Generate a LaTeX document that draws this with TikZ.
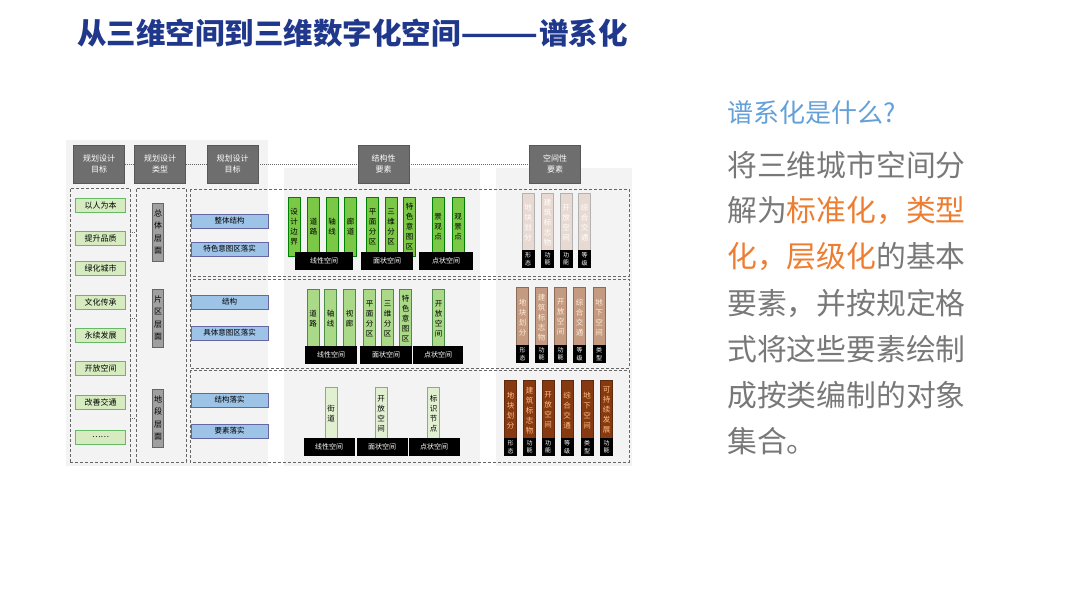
\documentclass[tikz,border=0pt]{standalone}
\usepackage{fontspec}
\setmainfont{Noto Sans CJK SC}
\usepackage{xcolor}
\usepackage{graphicx}
\usepackage{tikz}
\definecolor{titleblue}{RGB}{32,56,140}
\definecolor{askblue}{RGB}{100,160,215}
\definecolor{bodygray}{RGB}{120,120,120}
\definecolor{hiorange}{RGB}{237,125,49}
\definecolor{hdrgray}{RGB}{110,110,110}
\definecolor{goalgreen}{RGB}{214,236,192}
\definecolor{lvlgray}{RGB}{160,160,160}
\definecolor{planblue}{RGB}{157,195,230}
\definecolor{gbarA}{RGB}{122,200,70}
\definecolor{gbarB}{RGB}{170,218,135}
\definecolor{gbarC}{RGB}{226,240,210}
\definecolor{sbarA}{RGB}{232,218,210}
\definecolor{sbarB}{RGB}{196,154,128}
\definecolor{sbarC}{RGB}{135,58,18}
\definecolor{bggray}{RGB}{243,243,243}

\begin{document}
\begin{tikzpicture}[x=1pt,y=-1pt,
  hdr/.style={fill=hdrgray,draw=hdrgray!80!black,text=white,minimum width=51,minimum height=38,align=center,inner sep=1,font=\fontsize{8}{11}\selectfont},
  goal/.style={fill=goalgreen,draw=black!45!green!60,line width=0.8,minimum width=50,minimum height=14,inner sep=0,font=\fontsize{8}{9}\selectfont},
  lvlbox/.style={fill=lvlgray,draw=black!60,line width=0.8,minimum width=11,minimum height=58,inner sep=0,align=center,font=\fontsize{8}{12.5}\selectfont},
  planbox/.style={fill=planblue,draw=blue!40!black!60,line width=0.8,minimum width=77,minimum height=14,inner sep=0,font=\fontsize{7.5}{8}\selectfont},
  bar/.style={anchor=north,minimum width=12,inner sep=0,align=center,line width=0.6,font=\fontsize{7.5}{10}\selectfont},
  spc/.style={fill=black,text=white,minimum height=18,inner sep=0,font=\fontsize{7}{8}\selectfont},
  tag/.style={fill=black,text=white,minimum width=13,minimum height=18,inner sep=0,align=center,font=\fontsize{6}{7.5}\selectfont},
  grp/.style={draw=black!60,densely dashed,line width=0.9},
  link/.style={draw=black!60,densely dotted,line width=1},
  body/.style={anchor=west,inner sep=0,text=bodygray,font=\fontsize{29.8}{34}\selectfont}]
\useasboundingbox (0,0) rectangle (1080,608);

\fill[bggray] (66,140) rectangle (268,466);
\fill[bggray] (284,168) rectangle (480,466);
\fill[bggray] (496,168) rectangle (632,466);

\node[anchor=west,inner sep=0,text=titleblue,font=\fontsize{29.5}{33}\selectfont\bfseries] (title) at (77,33) {从三维空间到三维数字化空间\scalebox{1.55}[1]{——}谱系化};

\node[hdr] (h1) at (99,164) {规划设计\\目标};
\node[hdr] (h2) at (160,164) {规划设计\\类型};
\node[hdr] (h3) at (232.5,164) {规划设计\\目标};
\node[hdr] (h4) at (383.5,164) {结构性\\要素};
\node[hdr] (h5) at (555,164) {空间性\\要素};
\draw[link] (h1) -- (h2) (h2) -- (h3) (h3) -- (h4) (h4) -- (h5);

\node[grp,minimum width=60,minimum height=274,inner sep=0] (c1) at (100,325) {};
\node[grp,minimum width=50,minimum height=274,inner sep=0] (c2) at (161,325) {};
\draw[grp] (190,189) rectangle (629,276);
\draw[grp] (190,279) rectangle (629,368);
\draw[grp] (190,370) rectangle (629,462);

\foreach \y/\t [count=\i] in {205/以人为本,238/提升品质,268/绿化城市,302/文化传承,335/永续发展,368/开放空间,402/改善交通,437/……}
  \node[goal] (g\i) at (100.5,\y) {\t};

\node[lvlbox] (l1) at (158,232) {总\\体\\层\\面};
\node[lvlbox] (l2) at (158,318) {片\\区\\层\\面};
\node[lvlbox] (l3) at (158,418) {地\\段\\层\\面};
\foreach \i in {1,2,3}
  \draw[link] (c1.east |- l\i) -- (c2.west |- l\i);

\node[planbox] (p1) at (229.5,221) {整体结构};
\node[planbox] (p2) at (229.5,249) {特色意图区落实};
\node[planbox] (p3) at (229.5,302) {结构};
\node[planbox] (p4) at (229.5,333) {具体意图区落实};
\node[planbox] (p5) at (229.5,400) {结构落实};
\node[planbox] (p6) at (229.5,431) {要素落实};

\foreach \x/\t [count=\i] in {294/设\\计\\边\\界,313.5/道\\路,332/轴\\线,350.5/廊\\道,372.5/平\\面\\分\\区,391/三\\维\\分\\区,409.5/特\\色\\意\\图\\区,438/景\\观\\点,458/观\\景\\点}
  \node[bar,fill=gbarA,draw=green!50!black,minimum height=59] (a\i) at (\x,197) {\t};
\node[spc,minimum width=58] (sa1) at (324,261) {线性空间};
\node[spc,minimum width=52] (sa2) at (387,261) {面状空间};
\node[spc,minimum width=54] (sa3) at (446,261) {点状空间};

\foreach \x/\t [count=\i] in {313/道\\路,330.5/轴\\线,349.5/视\\廊,369.5/平\\面\\分\\区,387.5/三\\维\\分\\区,405.5/特\\色\\意\\图\\区,438.5/开\\放\\空\\间}
  \node[bar,fill=gbarB,draw=green!35!black!70,minimum height=59] (b\i) at (\x,289) {\t};
\node[spc,minimum width=52] (sb1) at (331,355) {线性空间};
\node[spc,minimum width=52] (sb2) at (386,355) {面状空间};
\node[spc,minimum width=50] (sb3) at (438,355) {点状空间};

\foreach \x/\t [count=\i] in {331/街\\道,381/开\\放\\空\\间,433.5/标\\识\\节\\点}
  \node[bar,fill=gbarC,draw=green!40!black!50,minimum height=53] (c\i) at (\x,387) {\t};
\node[spc,minimum width=51] (sc1) at (329,447) {线性空间};
\node[spc,minimum width=51] (sc2) at (382,447) {面状空间};
\node[spc,minimum width=51] (sc3) at (434,447) {点状空间};

\foreach \x/\t [count=\i] in {528/地\\块\\划\\分,547.5/建\\筑\\标\\志\\物,566/开\\放\\空\\间,584.5/综\\合\\交\\通}
  \node[bar,fill=sbarA,draw=black!30,text=white,minimum height=59] (d\i) at (\x,193) {\t};
\foreach \x/\t [count=\i] in {528/形\\态,547.5/功\\能,566/功\\能,584.5/等\\级}
  \node[tag] (td\i) at (\x,259) {\t};

\foreach \x/\t [count=\i] in {522.5/地\\块\\划\\分,541.5/建\\筑\\标\\志\\物,560.5/开\\放\\空\\间,579.5/综\\合\\交\\通,599/地\\下\\空\\间}
  \node[bar,fill=sbarB,draw=sbarB!70!black,text=orange!15,minimum height=60] (e\i) at (\x,287) {\t};
\foreach \x/\t [count=\i] in {522.5/形\\态,541.5/功\\能,560.5/功\\能,579.5/等\\级,599/类\\型}
  \node[tag] (te\i) at (\x,354) {\t};

\foreach \x/\t [count=\i] in {510.5/地\\块\\划\\分,529.5/建\\筑\\标\\志\\物,548/开\\放\\空\\间,567/综\\合\\交\\通,587/地\\下\\空\\间,606.5/可\\持\\续\\发\\展}
  \node[bar,fill=sbarC,draw=sbarC!70!black,text=orange!50,minimum height=60] (f\i) at (\x,380) {\t};
\foreach \x/\t [count=\i] in {510.5/形\\态,529.5/功\\能,548/功\\能,567/等\\级,587/类\\型,606.5/功\\能}
  \node[tag] (tf\i) at (\x,447) {\t};

\node[anchor=west,inner sep=0,text=askblue,font=\fontsize{26}{30}\selectfont] (ask) at (727,113) {谱系化是什么?};
\node[body] (t1) at (727,165) {将三维城市空间分};
\node[body] (t2) at (727,211) {解为\textcolor{hiorange}{标准化，类型}};
\node[body] (t3) at (727,257) {\textcolor{hiorange}{化，层级化}的基本};
\node[body] (t4) at (727,303) {要素，并按规定格};
\node[body] (t5) at (727,349) {式将这些要素绘制};
\node[body] (t6) at (727,395) {成按类编制的对象};
\node[body] (t7) at (727,441) {集合。};
\end{tikzpicture}
\end{document}
